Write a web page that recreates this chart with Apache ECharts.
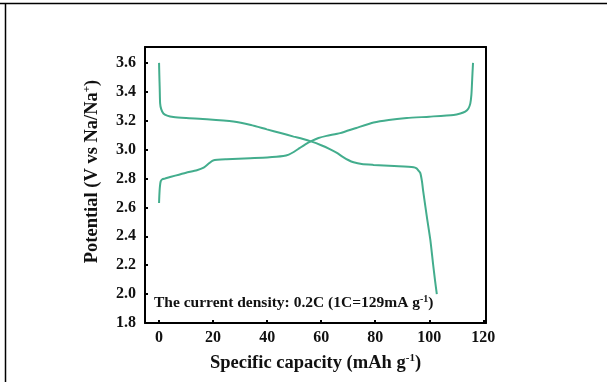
<!DOCTYPE html>
<html>
<head>
<meta charset="utf-8">
<script src="https://cdn.jsdelivr.net/npm/echarts@6/dist/echarts.min.js"></script>
<style>html,body{margin:0;padding:0;background:#fff}#c{width:607px;height:382px}</style>
</head>
<body>
<div id="c"></div>
<script>
// Charge curve (capacity mAh/g, potential V)
var chargeX = [0, 0.1, 0.3, 0.6, 1.2, 2.2, 6, 10, 14, 16.5, 18.5, 20, 25, 33.7, 40, 46, 48, 50, 52, 54, 56.5, 59, 62, 67, 73, 79.4, 85, 91.7, 100, 109, 111.5, 113.3, 114.5, 115.2, 115.6, 115.8, 116.0, 116.2];
var chargeY = [2.63, 2.68, 2.74, 2.78, 2.795, 2.80, 2.82, 2.84, 2.857, 2.875, 2.905, 2.925, 2.933, 2.94, 2.945, 2.955, 2.965, 2.985, 3.01, 3.035, 3.06, 3.08, 3.095, 3.114, 3.15, 3.187, 3.205, 3.218, 3.228, 3.24, 3.25, 3.263, 3.285, 3.32, 3.38, 3.45, 3.53, 3.60];
// Discharge curve
var dischargeX = [0, 0.1, 0.25, 0.4, 0.8, 1.6, 3, 5.3, 10, 17.7, 27.5, 34, 39.9, 45, 49.8, 53, 56.5, 60, 63, 66, 68, 70, 72, 75, 79.4, 87, 94.2, 95.3, 96, 96.7, 97.3, 97.7, 99.1, 100.4, 101.4, 102.1, 102.8];
var dischargeY = [3.60, 3.52, 3.42, 3.32, 3.28, 3.25, 3.235, 3.225, 3.218, 3.21, 3.194, 3.17, 3.14, 3.115, 3.09, 3.075, 3.055, 3.03, 3.005, 2.975, 2.95, 2.928, 2.912, 2.9, 2.894, 2.886, 2.878, 2.87, 2.855, 2.837, 2.78, 2.72, 2.536, 2.375, 2.21, 2.10, 2.0];
var xTicks = [0, 20, 40, 60, 80, 100, 120];
var yTicks = [1.8, 2.0, 2.2, 2.4, 2.6, 2.8, 3.0, 3.2, 3.4, 3.6];

function pairs(xs, ys) { return xs.map(function (x, i) { return [x, ys[i]]; }); }

var font = 'Liberation Serif';
var color = '#43ad8d';
var chart = echarts.init(document.getElementById('c'), null, { renderer: 'canvas' });
var axisLine = { show: true, onZero: false, lineStyle: { color: '#000', width: 2 } };
var supStyle = { fontFamily: font, fontWeight: 'bold', fontSize: 11, color: '#111', verticalAlign: 'top', padding: [0, 0, 9, 0] };
chart.setOption({
  backgroundColor: '#fff',
  animation: false,
  grid: { left: 145, right: 121, top: 47, bottom: 59 },
  xAxis: [{
    type: 'value', min: -5.2, max: 121, position: 'bottom',
    axisLine: axisLine,
    axisTick: { show: true, inside: true, length: 3, lineStyle: { color: '#000', width: 2 }, customValues: xTicks },
    axisLabel: { customValues: xTicks, fontFamily: font, fontWeight: 'bold', fontSize: 16, color: '#111', margin: 7 },
    splitLine: { show: false },
    name: '{a|Specific capacity (mAh g}{s|-1}{a|)}',
    nameLocation: 'middle', nameGap: 30,
    nameTextStyle: { rich: { a: { fontFamily: font, fontWeight: 'bold', fontSize: 18.5, color: '#111' }, s: supStyle } }
  }, {
    type: 'value', min: -5.2, max: 121, position: 'top',
    axisLine: axisLine, axisTick: { show: false }, axisLabel: { show: false }, splitLine: { show: false }
  }],
  yAxis: [{
    type: 'value', min: 1.8, max: 3.71, position: 'left',
    axisLine: axisLine,
    axisTick: { show: true, inside: true, length: 3, lineStyle: { color: '#000', width: 2 }, customValues: yTicks },
    axisLabel: { customValues: yTicks, formatter: function (v) { return v.toFixed(1); }, fontFamily: font, fontWeight: 'bold', fontSize: 16, color: '#111', margin: 9 },
    splitLine: { show: false },
    name: '{a|Potential (V vs Na/Na}{s|+}{a|)}',
    nameLocation: 'middle', nameGap: 43, nameRotate: 90,
    nameTextStyle: { padding: [0, 0, 0, 27], rich: { a: { fontFamily: font, fontWeight: 'bold', fontSize: 18.5, color: '#111' }, s: supStyle } }
  }, {
    type: 'value', min: 1.8, max: 3.71, position: 'right',
    axisLine: axisLine, axisTick: { show: false }, axisLabel: { show: false }, splitLine: { show: false }
  }],
  series: [{
    type: 'line', data: pairs(chargeX, chargeY), smooth: 0.2, showSymbol: false,
    lineStyle: { color: color, width: 2 }
  }, {
    type: 'line', data: pairs(dischargeX, dischargeY), smooth: 0.2, showSymbol: false,
    lineStyle: { color: color, width: 2 }
  }],
  graphic: [
    { type: 'line', shape: { x1: 0, y1: 3.5, x2: 607, y2: 3.5 }, style: { stroke: '#000', lineWidth: 1.5 } },
    { type: 'line', shape: { x1: 5.5, y1: 3, x2: 5.5, y2: 382 }, style: { stroke: '#000', lineWidth: 1.5 } },
    {
      type: 'text', left: 154, top: 294,
      style: {
        text: '{a|The current density: 0.2C (1C=129mA g}{s|-1}{a|)}',
        rich: { a: { fontFamily: font, fontWeight: 'bold', fontSize: 15.5, fill: '#111' }, s: { fontFamily: font, fontWeight: 'bold', fontSize: 10, fill: '#111', verticalAlign: 'top', padding: [0, 0, 8, 0] } }
      }
    }
  ]
});
</script>
</body>
</html>
